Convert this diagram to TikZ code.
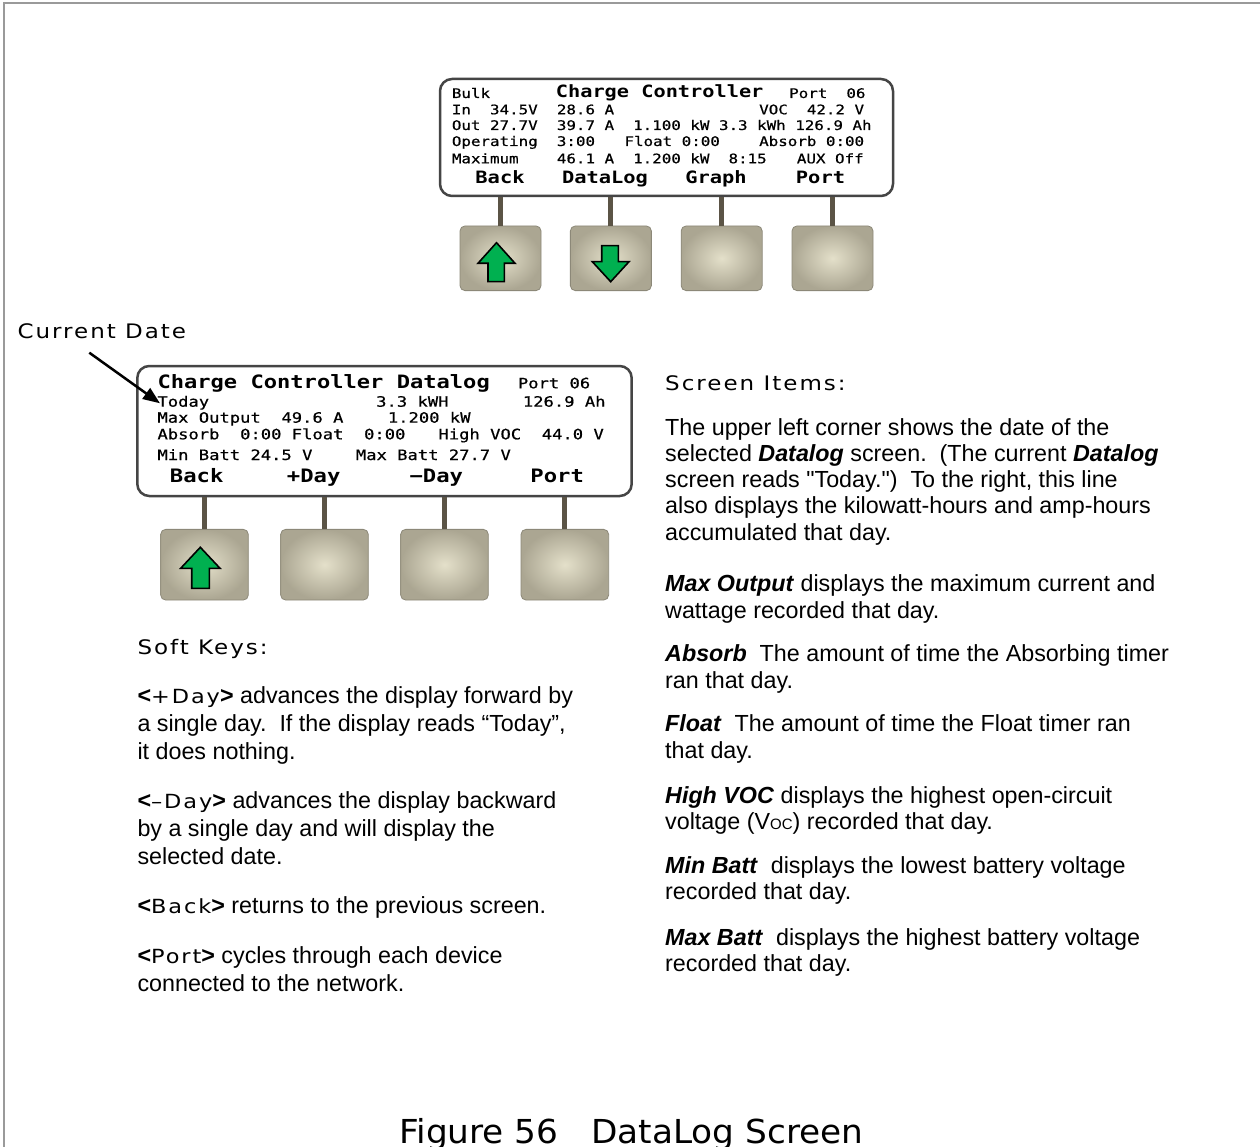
\documentclass[tikz,border=0pt]{standalone}
\usepackage{fontspec}
\setmainfont{Liberation Sans}
\newfontfamily\plainq{Liberation Sans}
\newfontfamily\lcd[FakeStretch=1.2]{DejaVu Sans Mono}
\newfontfamily\lcdm[FakeStretch=1.2,FakeBold=0.6]{DejaVu Sans Mono}
\newfontfamily\hd[FakeStretch=1.15,LetterSpace=10]{DejaVu Sans}
\newfontfamily\ttl[FakeStretch=1.04]{DejaVu Sans}
\usetikzlibrary{arrows.meta}
\definecolor{dispedge}{HTML}{454545}
\definecolor{stemcol}{HTML}{5B5446}
\definecolor{btnout}{HTML}{ABA692}
\definecolor{btnin}{HTML}{E4E0CA}
\definecolor{btnedge}{HTML}{8C8878}
\definecolor{arrowgreen}{HTML}{00B050}
\definecolor{framegray}{HTML}{9A9A9A}
\newcommand{\fsz}[2]{\fontsize{#1}{#2}\selectfont}
\newcommand{\bix}[1]{\textbf{\textit{#1}}}
\newcommand{\kw}[1]{{\bfseries<}{\hd\fontsize{19.5}{20}\selectfont #1}{\bfseries>}}
\newcommand{\sq}{{\plainq"}}
\begin{document}
\begin{tikzpicture}[x=1pt,y=-1pt,
  display/.style={draw=dispedge, line width=2.5pt, rounded corners=12pt, fill=white, inner sep=0pt},
  button/.style={draw=btnedge, line width=0.8pt, rounded corners=5pt, inner color=btnin, outer color=btnout, inner sep=0pt},
  stem/.style={draw=stemcol, line width=5pt},
  greenarrow/.style={draw=black, fill=arrowgreen, line width=1.6pt, line join=miter},
  lcdA/.style={anchor=base west, inner sep=0pt, font=\lcdm\fsz{13.2}{14}},
  lcdB/.style={anchor=base west, inner sep=0pt, font=\lcdm\fsz{14.3}{15}},
  lcdtitleA/.style={anchor=base west, inner sep=0pt, font=\lcd\bfseries\fsz{16.9}{18}},
  lcdtitleB/.style={anchor=base west, inner sep=0pt, font=\lcd\bfseries\fsz{18.4}{19}},
  softA/.style={anchor=base, inner sep=0pt, font=\lcd\bfseries\fsz{17}{18}},
  softB/.style={anchor=base, inner sep=0pt, font=\lcd\bfseries\fsz{18.5}{19}},
  heading/.style={anchor=base west, inner sep=0pt, font=\hd\fsz{20}{22}},
  bodyL/.style={anchor=base west, inner sep=0pt, align=left, font=\fsz{23.3}{28.3}},
  bodyR/.style={anchor=base west, inner sep=0pt, align=left, font=\fsz{23.3}{26.25}},
  frame/.style={draw=framegray, line width=2.5pt}
]
\useasboundingbox (0,0) rectangle (1260,1147);
\fill[white] (0,0) rectangle (1260,1147);
\draw[frame] (4,1147) -- (4,3) -- (1260,3);

% ---------- top display ----------
\node[display, minimum width=453pt, minimum height=117pt] (d1) at (666.5,137.5) {};
\foreach \n/\x in {1/500.5,2/610.85,3/721.65,4/832.5}{
  \node[button, minimum width=81pt, minimum height=64.7pt] (t\n) at (\x,258.3) {};
  \draw[stem] (d1.south -| t\n.north) -- (t\n.north);
}
\draw[greenarrow] (478,263.3) -- (496.5,242.7) -- (515,263.3) -- (504.3,263.3) -- (504.3,281.7) -- (488,281.7) -- (488,263.3) -- cycle;
\draw[greenarrow] (601.7,245.7) -- (618.3,245.7) -- (618.3,261.7) -- (629,261.7) -- (610.7,281.7) -- (592.3,261.7) -- (601.7,261.7) -- cycle;

\node[lcdA] (a1) at (451.7,98) {Bulk};
\node[lcdtitleA] (a2) at (555.7,98) {Charge Controller};
\node[lcdA] (a3) at (789,98) {Port\ \ 06};
\node[lcdA] (a4) at (451.7,114.3) {In\ \ 34.5V};
\node[lcdA] (a5) at (556.7,114.3) {28.6 A};
\node[lcdA] (a6) at (759,114.3) {VOC\ \ 42.2 V};
\node[lcdA] (a7) at (451.7,130) {Out 27.7V};
\node[lcdA] (a8) at (556.7,130) {39.7 A\ \ 1.100 kW 3.3 kWh 126.9 Ah};
\node[lcdA] (a9) at (451.7,146) {Operating};
\node[lcdA] (a10) at (556.7,146) {3:00};
\node[lcdA] (a11) at (624.3,146) {Float 0:00};
\node[lcdA] (a12) at (759,146) {Absorb 0:00};
\node[lcdA] (a13) at (451.7,163.3) {Maximum};
\node[lcdA] (a14) at (556.7,163.3) {46.1 A\ \ 1.200 kW\ \ 8:15};
\node[lcdA] (a15) at (796.7,163.3) {AUX Off};
\node[softA] (s1) at (500,183.3) {Back};
\node[softA] (s2) at (605,183.3) {DataLog};
\node[softA] (s3) at (716,183.3) {Graph};
\node[softA] (s4) at (820.5,183.3) {Port};

% ---------- bottom display ----------
\node[display, minimum width=494.4pt, minimum height=130pt] (d2) at (384.5,431) {};
\foreach \n/\x in {1/204.5,2/324.5,3/444.5,4/564.85}{
  \node[button, minimum width=87.6pt, minimum height=70.7pt] (b\n) at (\x,564.7) {};
  \draw[stem] (d2.south -| b\n.north) -- (b\n.north);
}
\draw[greenarrow] (180.7,568.3) -- (200.3,547.3) -- (220,568.3) -- (209.3,568.3) -- (209.3,588.3) -- (191.7,588.3) -- (191.7,568.3) -- cycle;

\node[lcdtitleB] (c1) at (157.3,388.3) {Charge Controller Datalog};
\node[lcdB] (c2) at (517.7,388.3) {Port 06};
\node[lcdB] (today) at (157.3,406.7) {Today};
\node[lcdB] (c4) at (376,406.7) {3.3 kWH};
\node[lcdB] (c5) at (522.7,406.7) {126.9 Ah};
\node[lcdB] (c6) at (157.3,422.7) {Max Output\ \ 49.6 A};
\node[lcdB] (c7) at (387.7,422.7) {1.200 kW};
\node[lcdB] (c8) at (157.3,439.3) {Absorb\ \ 0:00 Float\ \ 0:00};
\node[lcdB] (c9) at (438.3,439.3) {High VOC\ \ 44.0 V};
\node[lcdB] (c10) at (157.3,460) {Min Batt 24.5 V};
\node[lcdB] (c11) at (355.7,460) {Max Batt 27.7 V};
\node[softB] (k1) at (196.7,482.7) {Back};
\node[softB] (k2) at (313.7,482.7) {+Day};
\node[softB] (k3) at (436.3,482.7) {−Day};
\node[softB] (k4) at (557.2,482.7) {Port};

% ---------- current date label ----------
\node[heading] (cd) at (17.3,338.3) {Current Date};
\coordinate (cdstart) at (89.3,352.7);
\coordinate (cdtip) at (160,403.3);
\draw[line width=2.5pt, -{Triangle[length=17pt,width=13pt]}] (cdstart) -- (cdtip);

% ---------- left column (anchor = baseline of last line) ----------
\node[heading] (sk) at (137.3,654) {Soft Keys:};
\node[bodyL] (p1) at (137.3,759.9) {\kw{+Day} advances the display forward by\\a single day.\ \ If the display reads “Today”,\\it does nothing.};
\node[bodyL] (p2) at (137.3,864.9) {\kw{–Day} advances the display backward\\by a single day and will display the\\selected date.};
\node[bodyL] (p3) at (137.3,913.3) {\kw{Back} returns to the previous screen.};
\node[bodyL] (p4) at (137.3,991.6) {\kw{Port} cycles through each device\\connected to the network.};

% ---------- right column (anchor = baseline of last line) ----------
\node[heading] (si) at (665,390) {Screen Items:};
\node[bodyR] (r1) at (665,540) {The upper left corner shows the date of the\\selected \bix{Datalog} screen.\ \ (The current \bix{Datalog}\\screen reads \sq Today.\sq)\ \ To the right, this line\\also displays the kilowatt-hours and amp-hours\\accumulated that day.};
\node[bodyR] (r2) at (665,618) {\bix{Max Output} displays the maximum current and\\wattage recorded that day.};
\node[bodyR] (r3) at (665,688) {\bix{Absorb}\ \ The amount of time the Absorbing timer\\ran that day.};
\node[bodyR] (r4) at (665,758) {\bix{Float}\ \ The amount of time the Float timer ran\\that day.};
\node[bodyR] (r5) at (665,829.6) {\bix{High VOC} displays the highest open-circuit\\voltage (V{\fontsize{15}{16}\selectfont OC}) recorded that day.};
\node[bodyR] (r6) at (665,899.6) {\bix{Min Batt}\ \ displays the lowest battery voltage\\recorded that day.};
\node[bodyR] (r7) at (665,971.3) {\bix{Max Batt}\ \ displays the highest battery voltage\\recorded that day.};

% ---------- caption ----------
\node[anchor=base west, inner sep=0pt, font=\ttl\fsz{33}{34}] (cap) at (399,1143) {Figure 56\ \ \ DataLog Screen};
\end{tikzpicture}
\end{document}
